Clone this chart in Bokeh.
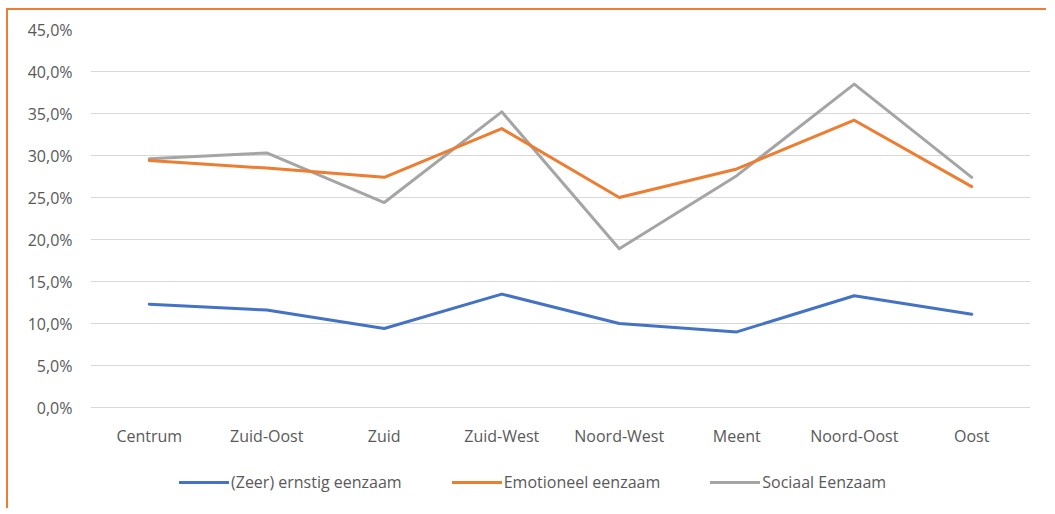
from bokeh.plotting import figure
from bokeh.models import FixedTicker, Legend, LegendItem, ColumnDataSource
from bokeh.core.properties import value
from bokeh.embed import file_html
from bokeh.resources import INLINE

categories = ["Centrum", "Zuid-Oost", "Zuid", "Zuid-West", "Noord-West", "Meent", "Noord-Oost", "Oost"]
ernstig = [12.3, 11.6, 9.4, 13.5, 10.0, 9.0, 13.3, 11.1]
emotioneel = [29.4, 28.5, 27.4, 33.2, 25.0, 28.4, 34.2, 26.3]
sociaal = [29.6, 30.3, 24.4, 35.2, 18.9, 27.6, 38.5, 27.4]
series_names = ["(Zeer) ernstig eenzaam", "Emotioneel eenzaam", "Sociaal Eenzaam"]
series_colors = ["#4472C4", "#ED7D31", "#A5A5A5"]
y_ticks = [0, 5, 10, 15, 20, 25, 30, 35, 40, 45]
y_tick_labels = ["0,0%", "5,0%", "10,0%", "15,0%", "20,0%", "25,0%", "30,0%", "35,0%", "40,0%", "45,0%"]

FONT = "Open Sans"
TXT = "#595959"

# layout (pixels)
W, H = 1040, 500
TOP, BOTTOM, LEFT, RIGHT = 19, 5, 82, 18
PLOT_PX_0_TO_45 = 378           # pixel height between 0% and 45%
px_per_unit = PLOT_PX_0_TO_45 / 45.0
frame_h = H - TOP - BOTTOM
y_min = 45 - frame_h / px_per_unit
label_y = -28 / px_per_unit     # category labels 28px below the 0% line

p = figure(x_range=categories, y_range=(y_min, 45), width=W, height=H,
           output_backend="svg", toolbar_location=None, x_axis_location=None,
           min_border_left=LEFT, min_border_right=RIGHT, min_border_top=TOP, min_border_bottom=BOTTOM)
p.x_range.range_padding = 0
p.outline_line_color = None
p.background_fill_color = "white"
p.border_fill_color = "white"
p.styles = {"border-top": "2px solid #ED7D31", "border-left": "2px solid #ED7D31",
            "margin-left": "6px", "margin-top": "8px"}

src = ColumnDataSource(dict(cat=categories, a=ernstig, b=emotioneel, c=sociaal))
renderers = []
for col, color in zip(["c", "b", "a"], series_colors[::-1]):
    r = p.line("cat", col, source=src, line_color=color, line_width=3, line_join="round", line_cap="round")
    renderers.append(r)
renderers = renderers[::-1]

# category labels
p.text(x=categories, y=[label_y] * len(categories), text=categories,
       text_font=value(FONT), text_font_size="16px", text_color=TXT,
       text_align="center", text_baseline="middle")

p.xgrid.grid_line_color = None
p.ygrid.grid_line_color = "#D9D9D9"
p.ygrid.grid_line_width = 1

p.yaxis.ticker = FixedTicker(ticks=y_ticks)
p.yaxis.major_label_overrides = {t: l for t, l in zip(y_ticks, y_tick_labels)}
ax = p.yaxis[0]
ax.axis_line_color = None
ax.major_tick_line_color = None
ax.minor_tick_line_color = None
ax.major_tick_out = 0
ax.major_tick_in = 0
ax.major_label_text_font = FONT
ax.major_label_text_font_size = "16px"
ax.major_label_text_color = TXT
ax.major_label_standoff = 18

legend = Legend(items=[LegendItem(label=n, renderers=[r]) for n, r in zip(series_names, renderers)],
                orientation="horizontal", location=(89, 12),
                glyph_width=50, glyph_height=20, label_standoff=2, spacing=50,
                label_text_font=FONT, label_text_font_size="16px", label_text_color=TXT,
                border_line_color=None, background_fill_alpha=0, padding=5, margin=0)
p.add_layout(legend, "center")

open("out.html", "w").write(file_html(p, INLINE))
